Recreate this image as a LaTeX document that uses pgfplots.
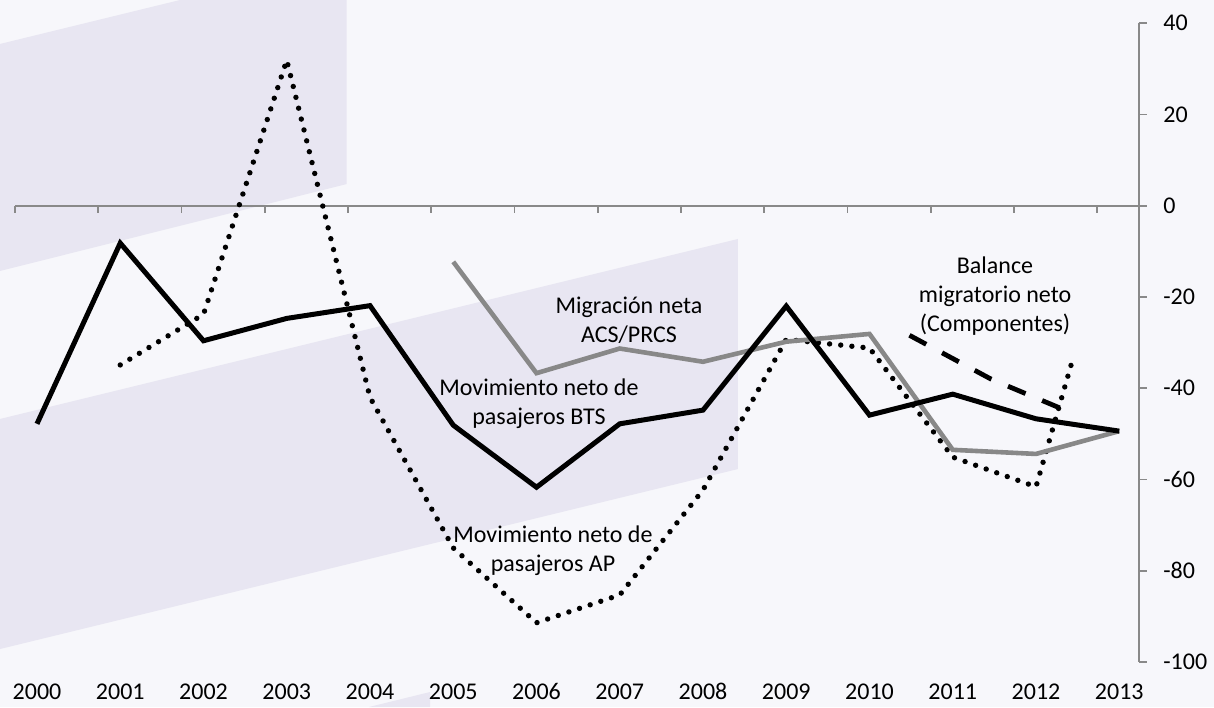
\documentclass[border=0pt]{standalone}
\usepackage{fontspec}
\setmainfont{Carlito}
\usepackage{pgfplots}
\pgfplotsset{compat=1.18}
\definecolor{bgc}{RGB}{247,247,251}
\definecolor{bandc}{RGB}{232,230,242}
\definecolor{axc}{RGB}{137,137,137}
\definecolor{greyl}{RGB}{136,136,136}
\begin{document}
\begin{tikzpicture}
\begin{axis}[
  scale only axis, width=607pt, height=353.5pt,
  xmin=1999.5556, xmax=2014.1381, ymin=-109.86, ymax=45.08,
  axis lines=none, clip=false,
  font=\fontsize{12}{14.5}\selectfont,
]
% background and bands
\fill[bgc] (rel axis cs:0,0) rectangle (rel axis cs:1,1);
\fill[bandc] (rel axis cs:0,0.9378) -- (rel axis cs:0.1483,1) -- (rel axis cs:0.2856,1) -- (rel axis cs:0.2856,0.7397) -- (rel axis cs:0,0.6167) -- cycle;
\fill[bandc] (rel axis cs:0,0.4074) -- (rel axis cs:0.6079,0.6620) -- (rel axis cs:0.6079,0.3366) -- (rel axis cs:0,0.0820) -- cycle;
\fill[bandc] (rel axis cs:0.3040,0) -- (rel axis cs:0.3542,0.0212) -- (rel axis cs:0.3542,0) -- cycle;
% x axis
\draw[axc, line width=0.9pt] (axis cs:1999.7358,0) -- (axis cs:2013.335,0);
\pgfplotsinvokeforeach{1999.7358,2000.7358,2001.7358,2002.7358,2003.7358,2004.7358,2005.7358,2006.7358,2007.7358,2008.7358,2009.7358,2010.7358,2011.7358,2012.7358}{
  \draw[axc, line width=0.9pt] (axis cs:#1,0) -- (axis cs:#1,-1.7);
}
% y axis
\draw[axc, line width=0.9pt] (axis cs:2013.2336,40) -- (axis cs:2013.2336,-100);
\pgfplotsinvokeforeach{40,20,0,-20,-40,-60,-80,-100}{
  \draw[axc, line width=0.9pt] (axis cs:2013.2336,#1) -- (axis cs:2013.335,#1);
  \node[anchor=west, inner sep=0pt] at (axis cs:2013.525,#1) {#1};
}
% year labels
\pgfplotsinvokeforeach{2000,2001,2002,2003,2004,2005,2006,2007,2008,2009,2010,2011,2012,2013}{
  \node[anchor=base, inner sep=0pt] at (axis cs:#1,-108.3) {#1};
}
% AP dotted
\addplot[black, line width=2.7pt, line cap=round, dash pattern=on 0pt off 5.6pt] coordinates {
(2001,-34.9)(2002,-23.8)(2003,31.9)(2004,-42.0)(2005,-75.0)(2006,-91.4)(2007,-85.3)(2008,-62.3)(2009,-29.3)(2010,-31.2)(2011,-55.1)(2012,-61.6)(2012.45,-33.1)};
% ACS/PRCS grey
\addplot[greyl, line width=2.3pt] coordinates {
(2005,-12.3)(2006,-36.7)(2007,-31.3)(2008,-34.2)(2009,-29.8)(2010,-28.1)(2011,-53.5)(2012,-54.4)(2013,-49.4)};
% Balance dashed
\addplot[black, line width=2.4pt, dash pattern=on 9.5pt off 9pt] coordinates {
(2010.48,-28.4)(2011.46,-38.0)(2012.44,-45.5)};
% BTS solid
\addplot[black, line width=2.5pt] coordinates {
(2000,-47.8)(2001,-8.2)(2002,-29.6)(2003,-24.7)(2004,-21.9)(2005,-48.1)(2006,-61.7)(2007,-47.8)(2008,-44.8)(2009,-22.0)(2010,-45.9)(2011,-41.3)(2012,-46.7)(2013,-49.4)};
% labels
\node[align=center, inner sep=0pt] at (axis cs:2007.111,-25.16) {Migración neta\\ACS/PRCS};
\node[align=center, inner sep=0pt] at (axis cs:2006.030,-43.5) {Movimiento neto de\\pasajeros BTS};
\node[align=center, inner sep=0pt] at (axis cs:2006.198,-75.65) {Movimiento neto de\\pasajeros AP};
\node[align=center, inner sep=0pt] at (axis cs:2011.508,-19.79) {Balance\\migratorio neto\\(Componentes)};
\end{axis}
\end{tikzpicture}
\end{document}
